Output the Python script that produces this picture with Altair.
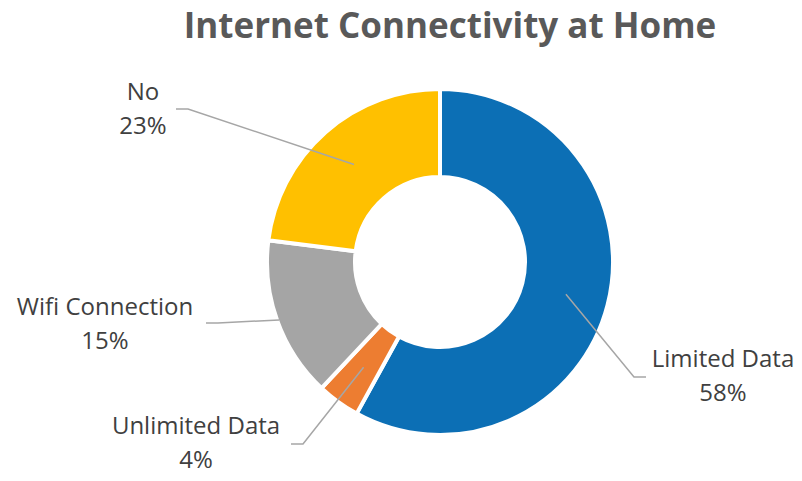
import altair as alt
import pandas as pd
import numpy as np

# ---- data ----
categories = ["Limited Data", "Unlimited Data", "Wifi Connection", "No"]
percentages = [58, 4, 15, 23]
colors = ["#0C6FB5", "#ED7D31", "#A5A5A5", "#FFC000"]
title_text = "Internet Connectivity at Home"

# ---- layout (pixels relative to donut centre, y pointing up) ----
label_dx = [283, -244, -335, -297]
label_dy = [-115, -182, -63, 152]
elbow_dx = [194, -137, -222, -252]
elbow_dy = [-115, -182, -61, 153]
leader_r = [130, 130, 171, 130]
tail_len = 12

W, H = 786, 465
CX, CY = 432, 254
R_OUT, R_IN = 173, 85
FONT = "Open Sans"
LINE_H = 34

df = pd.DataFrame({
    "category": categories,
    "value": percentages,
    "idx": list(range(len(categories))),
})
df["label"] = [f"{c}\n{v}%" for c, v in zip(categories, percentages)]
df["lx"] = label_dx
df["ly"] = label_dy

total = float(sum(percentages))
cum = np.cumsum(percentages)
mid = (cum - np.array(percentages) / 2.0) / total * 2 * np.pi

rows = []
for i, c in enumerate(categories):
    sx = leader_r[i] * np.sin(mid[i])
    sy = leader_r[i] * np.cos(mid[i])
    side = 1 if label_dx[i] > 0 else -1
    pts = [(sx, sy), (elbow_dx[i], elbow_dy[i]), (elbow_dx[i] + side * tail_len, elbow_dy[i])]
    for k, (px, py) in enumerate(pts):
        rows.append({"category": c, "k": k, "px": px, "py": py})
lines_df = pd.DataFrame(rows)

xs = alt.Scale(domain=[-CX, W - CX], nice=False, zero=False)
ys = alt.Scale(domain=[-(H - CY), CY], nice=False, zero=False)

arcs = alt.Chart(df).mark_arc(
    outerRadius=R_OUT, innerRadius=R_IN, stroke="white", strokeWidth=4
).encode(
    theta=alt.Theta("value:Q", stack=True),
    color=alt.Color("category:N", scale=alt.Scale(domain=categories, range=colors), legend=None),
    order=alt.Order("idx:Q"),
    x=alt.value(CX),
    y=alt.value(CY),
)

leaders = alt.Chart(lines_df).mark_line(color="#A6A6A6", strokeWidth=1.5).encode(
    x=alt.X("px:Q", scale=xs, axis=None),
    y=alt.Y("py:Q", scale=ys, axis=None),
    detail="category:N",
    order="k:Q",
)

labels = alt.Chart(df).mark_text(
    font=FONT, fontSize=24, color="#404040", lineBreak="\n", lineHeight=LINE_H,
    align="center", baseline="middle", dy=-LINE_H / 2
).encode(
    x=alt.X("lx:Q", scale=xs, axis=None),
    y=alt.Y("ly:Q", scale=ys, axis=None),
    text="label:N",
)

title = alt.Chart(pd.DataFrame({"t": [title_text]})).mark_text(
    font=FONT, fontSize=35, fontWeight="bold", color="#595959",
    align="center", baseline="alphabetic"
).encode(x=alt.value(442), y=alt.value(30), text="t:N")

chart = alt.layer(arcs, leaders, labels, title).properties(
    width=W, height=H, autosize=alt.AutoSizeParams(type="none"), padding=0
).configure_view(stroke=None)

chart.save("out.html", embed_options={"renderer": "svg", "actions": False})
